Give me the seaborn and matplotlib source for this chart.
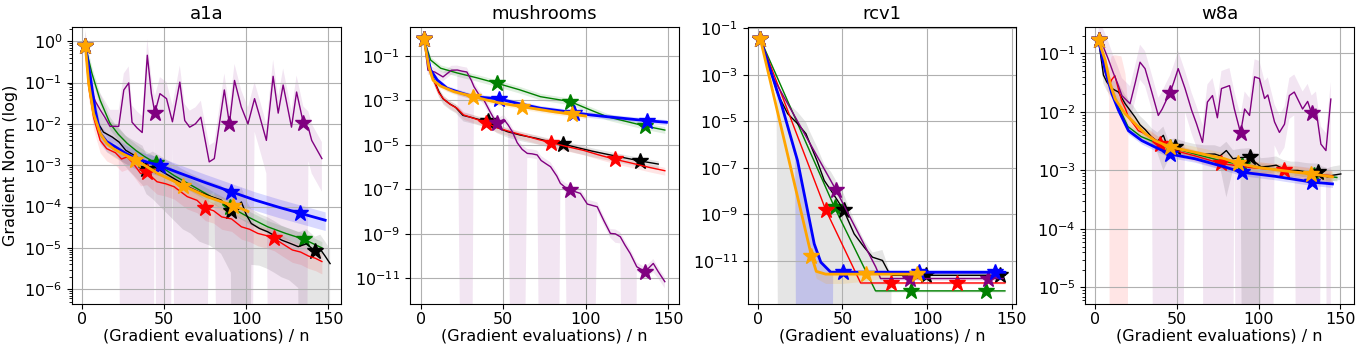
import numpy as np
import pandas as pd
import matplotlib

matplotlib.use("Agg")  # no display
import matplotlib.pyplot as plt
import seaborn as sns
from matplotlib.ticker import FixedLocator

# All y values are log10(gradient norm).
# up / dn are the band half-widths in decades above / below the mean line;
# dn = 20 means mean - std went negative, so the band runs off the bottom.

datasets = ["a1a", "mushrooms", "rcv1", "w8a"]
methods = ["green", "black", "red", "purple", "blue", "orange"]

# ---------------- a1a ----------------
a1a_green_x = [2, 6, 11, 17, 22, 27.4, 33, 38, 44.8, 56, 68, 79, 89.8, 101, 113, 124, 135, 146]
a1a_green_y = [-0.12, -0.78, -1.43, -1.99, -2.25, -2.47, -2.65, -2.79, -2.95, -3.25, -3.52, -3.77,
               -4.0, -4.25, -4.49, -4.65, -4.79, -5.0]
a1a_green_marks = [2, 44.8, 89.8, 135]
a1a_green_up = 0.15
a1a_green_dn = 0.15

a1a_black_x = [2, 4, 7, 10, 13, 18.4, 22.5, 26.6, 31.7, 36.8, 39.2, 43, 49, 55, 61.3, 66, 71.5, 78,
               84.6, 90.6, 94, 97, 100, 103, 108, 113, 117, 121.4, 126, 131.6, 136.7, 141.8, 145,
               148, 151]
a1a_black_y = [-0.12, -0.86, -1.66, -2.0, -2.2, -2.32, -2.44, -2.64, -2.76, -2.88, -3.1, -3.02,
               -3.16, -3.3, -3.45, -3.55, -3.65, -3.75, -3.84, -4.1, -4.0, -3.89, -4.2, -4.41,
               -4.53, -4.61, -4.7, -4.81, -4.88, -4.97, -4.9, -5.08, -5.03, -5.2, -5.38]
a1a_black_marks = [2, 39.2, 90.6, 141.8]
a1a_black_up = 0.35
a1a_black_dn = [0.1, 0.2, 0.3, 0.3, 0.3, 0.3, 0.4, 0.4, 0.5, 0.6, 0.6, 0.8, 0.9, 1.0, 1.1, 1.1,
                1.2, 1.2, 1.3, 1.5, 20, 20, 20, 1.0, 0.9, 0.9, 0.9, 0.9, 0.9, 1.0, 20, 20, 20,
                20, 20]

a1a_red_x = [2, 4, 7, 11, 15, 20.3, 24, 27.4, 31, 35.6, 39.3, 45.6, 51, 56, 64, 70, 75, 80, 85,
             91, 97, 102, 107, 112, 117, 122, 128, 133, 138, 142, 146]
a1a_red_y = [-0.12, -1.1, -1.84, -2.4, -2.6, -2.7, -2.85, -2.8, -2.95, -3.2, -3.17, -3.4, -3.45,
             -3.52, -3.76, -3.85, -4.04, -4.1, -4.25, -4.3, -4.49, -4.55, -4.65, -4.7, -4.77,
             -4.9, -5.05, -5.1, -5.2, -5.25, -5.33]
a1a_red_marks = [2, 39.3, 75, 117]
a1a_red_up = 0.2
a1a_red_dn = 0.3

a1a_purple_x = [2, 5, 8, 11, 14, 17, 20, 22.3, 25.4, 28.4, 30.4, 33.5, 36.6, 39.7, 42.2, 44.3,
                47.4, 51.4, 55, 59.5, 62.5, 65.5, 69, 72.3, 77.4, 80.5, 86.6, 89.7, 92.8, 96.9,
                101, 105, 108, 112.2, 116.3, 119.4, 122.4, 127.5, 130.6, 134.7, 137.8, 139.8, 146]
a1a_purple_y = [-0.12, -1.1, -1.45, -1.66, -1.85, -2.06, -2.06, -2.06, -1.18, -1.01, -1.96, -2.1,
                -2.21, -0.34, -1.27, -1.73, -1.27, -1.39, -1.95, -0.99, -1.92, -2.08, -2.0, -1.84,
                -2.92, -2.84, -1.18, -2.0, -0.95, -1.59, -2.0, -1.39, -1.8, -2.4, -0.85, -1.74,
                -1.06, -2.08, -1.23, -1.98, -2.1, -2.4, -2.84]
a1a_purple_marks = [44.3, 89.7, 134.7]
a1a_purple_up = 0.4
a1a_purple_dn = [0.1, 0.3, 0.4, 0.4, 0.4, 0.4, 0.4, 0.5, 20, 20, 20, 20, 20, 20, 20, 0.6, 20, 20,
                 0.6, 20, 20, 20, 20, 20, 0.8, 0.8, 20, 20, 20, 20, 20, 0.8, 0.8, 0.8, 20, 20, 20,
                 20, 20, 20, 0.8, 0.8, 0.8]

a1a_blue_x = [2, 5, 8, 11, 15, 20, 26, 32, 40, 47.4, 60, 75, 90.7, 105, 120, 132.6, 148]
a1a_blue_y = [-0.12, -0.86, -1.67, -2.23, -2.43, -2.55, -2.7, -2.83, -2.93, -3.01, -3.2, -3.42,
              -3.64, -3.84, -4.02, -4.16, -4.33]
a1a_blue_marks = [2, 47.4, 90.7, 132.6]
a1a_blue_up = 0.2
a1a_blue_dn = 0.25

a1a_orange_x = [2, 4, 7, 11, 15, 19, 25, 32.5, 40, 46, 54, 61.7, 69, 76, 84, 91.8, 97, 101]
a1a_orange_y = [-0.12, -1.02, -1.75, -2.23, -2.47, -2.6, -2.73, -2.87, -3.05, -3.2, -3.35, -3.5,
                -3.63, -3.76, -3.87, -3.98, -4.05, -4.12]
a1a_orange_marks = [2, 32.5, 61.7, 91.8]
a1a_orange_up = 0.12
a1a_orange_dn = 0.2

# ---------------- mushrooms ----------------
mushrooms_green_x = [2, 6, 12.1, 22, 34, 46.4, 60, 72.6, 90.7, 102, 113, 125, 136, 148]
mushrooms_green_y = [-0.25, -1.18, -1.55, -1.76, -1.98, -2.23, -2.52, -2.83, -3.05, -3.4, -3.73,
                     -3.95, -4.15, -4.33]
mushrooms_green_marks = [2, 46.4, 90.7, 136]
mushrooms_green_up = 0.15
mushrooms_green_dn = 0.15

mushrooms_black_x = [2, 5, 8.5, 11, 13.5, 17.5, 21, 25.6, 30, 35, 40.7, 46, 52.4, 60, 70, 78,
                     86.3, 95, 104, 113, 123, 133, 144]
mushrooms_black_y = [-0.25, -1.5, -2.17, -2.6, -2.92, -3.15, -3.3, -3.67, -3.75, -3.85, -3.92,
                     -4.2, -4.4, -4.55, -4.7, -4.85, -4.96, -5.12, -5.28, -5.42, -5.57, -5.72,
                     -5.86]
mushrooms_black_marks = [2, 40.7, 86.3, 133]
mushrooms_black_up = 0.15
mushrooms_black_dn = 0.25

mushrooms_red_x = [2, 5, 8.5, 11, 14, 18, 22, 26, 32, 39.7, 46, 55, 63, 71, 79, 89, 99, 108, 118,
                   128, 138, 148]
mushrooms_red_y = [-0.25, -1.6, -2.2, -2.65, -2.95, -3.18, -3.35, -3.65, -3.8, -4.0, -4.22, -4.42,
                   -4.58, -4.75, -4.9, -5.08, -5.25, -5.45, -5.65, -5.82, -6.0, -6.16]
mushrooms_red_marks = [2, 39.7, 79, 118]
mushrooms_red_up = 0.15
mushrooms_red_dn = 0.2

mushrooms_purple_x = [2, 4.4, 8.5, 13.5, 18.6, 22.2, 25, 28, 30.7, 32.3, 35, 38.3, 42, 46, 50.4,
                      53, 55.5, 58.5, 61.5, 64.6, 67.5, 70.6, 73, 76, 78.7, 82.5, 84.7, 87.5,
                      90.7, 93.5, 96.8, 101, 103, 107, 111, 115, 118, 121, 123.8, 127, 129.8,
                      131, 136, 141, 144, 148]
mushrooms_purple_y = [-0.25, -1.64, -1.72, -1.94, -1.64, -1.63, -1.68, -1.72, -2.1, -2.38, -2.7,
                      -2.98, -3.5, -4.03, -3.85, -4.1, -4.4, -4.9, -5.2, -5.38, -5.4, -5.45, -5.7,
                      -5.85, -5.98, -6.4, -6.73, -6.9, -7.03, -7.1, -7.18, -7.66, -7.7, -7.78,
                      -8.4, -8.98, -9.0, -9.13, -9.5, -9.88, -10.3, -10.48, -10.7, -10.33, -10.7,
                      -11.15]
mushrooms_purple_marks = [2, 46, 90.7, 136]
mushrooms_purple_up = 0.2
mushrooms_purple_dn = [0.1, 0.2, 0.2, 0.2, 0.2, 0.2, 20, 20, 20, 0.2, 0.2, 0.2, 0.2, 0.2, 0.2,
                       0.2, 20, 20, 20, 0.2, 0.2, 0.2, 20, 20, 20, 20, 0.2, 0.2, 20, 20, 20, 20,
                       20, 0.2, 0.2, 0.2, 0.4, 0.3, 20, 20, 20, 0.2, 0.3, 0.4, 0.3, 0.3]

mushrooms_blue_x = [2, 6, 10, 16, 24, 32, 40, 47.4, 60, 72.6, 83, 92.8, 103, 113, 125, 137, 149]
mushrooms_blue_y = [-0.25, -1.63, -2.08, -2.45, -2.65, -2.83, -2.88, -2.93, -3.15, -3.35, -3.45,
                    -3.55, -3.65, -3.73, -3.82, -3.91, -3.98]
mushrooms_blue_marks = [2, 47.4, 92.8, 137]
mushrooms_blue_up = 0.12
mushrooms_blue_dn = 0.12

mushrooms_orange_x = [2, 5, 7.5, 12, 20, 32, 40, 47, 55, 61.6, 70, 80, 91.8, 100]
mushrooms_orange_y = [-0.25, -1.5, -2.09, -2.35, -2.6, -2.83, -2.98, -3.1, -3.2, -3.28, -3.38,
                      -3.5, -3.62, -3.7]
mushrooms_orange_marks = [2, 32, 61.6, 91.8]
mushrooms_orange_up = 0.1
mushrooms_orange_dn = 0.12

# ---------------- rcv1 ----------------
rcv1_green_x = [1.5, 45.3, 69.5, 90.7, 135, 146]
rcv1_green_y = [-1.47, -8.7, -12.29, -12.29, -12.29, -12.29]
rcv1_green_marks = [1.5, 45.3, 90.7, 135]
rcv1_green_up = 0.05
rcv1_green_dn = 0.05

rcv1_black_x = [1.5, 6, 11, 12.7, 17.6, 23.5, 28.4, 30.4, 35, 39.2, 43.2, 50.6, 56.9, 62.8, 67.7,
                73.6, 77.4, 79, 99.4, 120, 143, 146]
rcv1_black_y = [-1.47, -2.4, -3.67, -3.96, -4.67, -5.1, -5.53, -5.89, -6.7, -7.54, -7.97, -8.8,
                -9.84, -10.41, -10.84, -10.98, -11.5, -11.62, -11.62, -11.62, -11.62, -11.62]
rcv1_black_marks = [1.5, 50.6, 99.4, 143]
rcv1_black_up = [0.05, 0.15, 0.3, 0.35, 0.45, 0.5, 0.5, 0.5, 0.6, 0.7, 0.8, 0.7, 0.6, 0.3, 0.2,
                 0.45, 0.15, 0.1, 0.1, 0.1, 0.1, 0.1]
rcv1_black_dn = [0.1, 0.2, 0.3, 20, 20, 20, 20, 20, 20, 20, 20, 20, 20, 20, 20, 20, 20, 0.15, 0.1,
                 0.1, 0.1, 0.1]

rcv1_red_x = [1.5, 40, 60.7, 78.6, 117.5, 146]
rcv1_red_y = [-1.47, -8.79, -11.95, -11.95, -11.95, -11.95]
rcv1_red_marks = [1.5, 40, 78.6, 117.5]
rcv1_red_up = 0.05
rcv1_red_dn = 0.05

rcv1_purple_x = [1.5, 7.7, 46, 69.7, 72.5, 90, 136, 145]
rcv1_purple_y = [-1.47, -2.95, -7.93, -11.27, -11.76, -11.76, -11.76, -11.76]
rcv1_purple_marks = [1.5, 46, 90, 136]
rcv1_purple_up = 0.08
rcv1_purple_dn = 0.08

rcv1_blue_x = [1.5, 13.8, 22, 23.4, 33.3, 37.2, 43.1, 44.5, 50.2, 70, 95, 120, 140.3, 146]
rcv1_blue_y = [-1.47, -4.24, -6.33, -6.68, -10.27, -11.06, -11.49, -11.49, -11.49, -11.49,
               -11.49, -11.49, -11.49, -11.49]
rcv1_blue_marks = [1.5, 50.2, 95, 140.3]
rcv1_blue_up = 0.1
rcv1_blue_dn = [0.1, 0.15, 0.2, 20, 20, 20, 20, 0.1, 0.1, 0.1, 0.1, 0.1, 0.1, 0.1]

rcv1_orange_x = [1.5, 16.5, 31.6, 34.5, 40, 50, 63.6, 80, 94, 97]
rcv1_orange_y = [-1.47, -6.1, -10.77, -11.45, -11.57, -11.57, -11.57, -11.57, -11.57, -11.57]
rcv1_orange_marks = [1.5, 31.6, 63.6, 94]
rcv1_orange_up = 0.08
rcv1_orange_dn = [0.1, 0.1, 0.1, 0.3, 0.4, 0.4, 0.3, 0.1, 0.1, 0.1]

# ---------------- w8a ----------------
w8a_green_x = [2, 6, 10, 14, 20, 28, 36.6, 45.7, 61, 79.3, 90, 110, 134, 148]
w8a_green_y = [-0.77, -1.25, -1.6, -1.9, -2.25, -2.42, -2.52, -2.6, -2.72, -2.85, -2.9, -2.98,
               -3.07, -3.12]
w8a_green_marks = [2, 45.7, 90, 134]
w8a_green_up = 0.06
w8a_green_dn = 0.06

w8a_black_x = [2, 5, 7.1, 10.2, 14.2, 18.3, 21.5, 24.4, 27.4, 30.5, 34.6, 38, 41.7, 44.7, 48.8,
               55, 61, 67, 73.2, 76.5, 80.3, 84.3, 89, 94.5, 97.5, 101.6, 106, 110.8, 115, 120,
               124, 128.2, 132, 136.2, 139, 142.3, 146, 150.4]
w8a_black_y = [-0.77, -1.37, -1.49, -1.6, -1.66, -1.86, -1.98, -2.09, -2.22, -2.3, -2.43, -2.5,
               -2.4, -2.63, -2.6, -2.66, -2.7, -2.72, -2.72, -2.75, -2.66, -2.8, -2.78, -2.77,
               -2.85, -2.94, -2.93, -2.91, -2.97, -3.0, -3.0, -3.02, -3.03, -3.03, -3.08, -3.11,
               -3.08, -3.06]
w8a_black_marks = [2, 48.8, 94.5, 136.2]
w8a_black_up = 0.15
w8a_black_dn = [0.05, 0.15, 0.15, 0.15, 0.15, 0.12, 0.12, 0.12, 0.12, 0.12, 0.12, 0.2, 0.6, 0.2,
                0.12, 0.12, 0.12, 0.12, 0.12, 0.2, 0.8, 0.2, 0.3, 20, 20, 0.15, 0.12, 0.12, 0.12,
                0.12, 0.1, 0.1, 0.1, 0.1, 0.1, 0.1, 0.1, 0.1]

w8a_red_x = [2, 5, 8.5, 10, 12, 16, 18.5, 20.3, 26.4, 34.6, 39.6, 48.8, 61, 76.8, 95, 115.4, 130,
             145]
w8a_red_y = [-0.77, -1.2, -1.55, -1.45, -1.38, -1.8, -1.95, -2.09, -2.32, -2.43, -2.55, -2.66,
             -2.75, -2.88, -2.95, -3.0, -3.05, -3.09]
w8a_red_marks = [2, 39.6, 76.8, 115.4]
w8a_red_up = [0.05, 0.15, 0.3, 0.4, 0.35, 0.75, 0.6, 0.15, 0.1, 0.1, 0.1, 0.1, 0.1, 0.1, 0.1, 0.1,
              0.1, 0.1]
w8a_red_dn = [0.1, 0.15, 0.2, 20, 20, 20, 20, 0.15, 0.1, 0.1, 0.1, 0.1, 0.1, 0.1, 0.1, 0.1, 0.1,
              0.1]

w8a_purple_x = [2, 5, 8, 11, 13.5, 16.3, 21.3, 24.5, 27.4, 30.5, 34.5, 38.6, 41, 43.5, 45.7, 48,
                50.8, 55, 59, 62, 65.7, 68.7, 71.8, 74.8, 77.3, 82.2, 85.2, 89, 91.5, 94.5, 97.6,
                100.6, 103.7, 105.7, 109.8, 112.8, 115.9, 118.9, 121.9, 127, 130.1, 132.5, 135.2,
                138.2, 141.3, 144.3]
w8a_purple_y = [-0.77, -0.89, -1.1, -1.33, -1.5, -1.72, -1.86, -1.5, -1.15, -1.26, -1.65, -2.06,
                -1.95, -1.8, -1.68, -1.5, -1.26, -1.6, -1.97, -2.2, -2.52, -1.83, -1.72, -2.1,
                -1.6, -1.55, -1.95, -2.36, -1.95, -2.06, -1.4, -1.43, -1.77, -1.71, -2.17, -2.35,
                -2.21, -1.72, -1.66, -1.95, -1.82, -2.02, -1.95, -2.55, -2.66, -1.78]
w8a_purple_marks = [2, 45.7, 89, 132.5]
w8a_purple_up = 0.3
w8a_purple_dn = [0.1, 0.2, 0.25, 0.3, 0.3, 0.3, 0.3, 0.3, 0.3, 0.3, 0.3, 20, 20, 20, 20, 20, 20,
                 0.4, 0.4, 0.4, 0.4, 20, 20, 20, 20, 20, 0.4, 20, 20, 20, 20, 20, 20, 20, 0.4,
                 0.4, 0.4, 0.4, 0.4, 20, 20, 20, 20, 0.4, 0.4, 20]

w8a_blue_x = [2, 6.1, 10.2, 14.2, 20.3, 28.5, 36.6, 45.7, 61, 79.3, 89.8, 110, 133, 145.3]
w8a_blue_y = [-0.77, -1.29, -1.69, -1.97, -2.32, -2.49, -2.6, -2.72, -2.8, -2.94, -3.03, -3.1,
              -3.2, -3.23]
w8a_blue_marks = [2, 45.7, 89.8, 133]
w8a_blue_up = 0.06
w8a_blue_dn = 0.06

w8a_orange_x = [2, 6.1, 9.1, 12.2, 18.3, 24.4, 30.5, 36.6, 45.7, 61, 79.3, 87.4, 100, 113.8,
                132.1, 145.3]
w8a_orange_y = [-0.77, -1.12, -1.52, -1.78, -2.03, -2.2, -2.37, -2.49, -2.6, -2.69, -2.8, -2.88,
                -2.95, -3.0, -3.06, -3.11]
w8a_orange_marks = [2, 45.7, 87.4, 132.1]
w8a_orange_up = 0.1
w8a_orange_dn = 0.1

# axis ranges (log10 for y) and the decades that carry a labelled tick
x_limits = {"a1a": (-6.1, 157.5), "mushrooms": (-6.6, 156.3), "rcv1": (-6.1, 152.7),
            "w8a": (-6.1, 158.5)}
y_limits = {"a1a": (-6.36, 0.34), "mushrooms": (-12.16, 0.30), "rcv1": (-12.86, -0.944),
            "w8a": (-5.285, -0.55)}
y_decades = {"a1a": [0, -1, -2, -3, -4, -5, -6], "mushrooms": [-1, -3, -5, -7, -9, -11],
             "rcv1": [-1, -3, -5, -7, -9, -11], "w8a": [-1, -2, -3, -4, -5]}

line_width = {"green": 1.0, "black": 1.0, "red": 1.0, "purple": 1.0, "blue": 2.0, "orange": 2.0}
band_alpha = {"green": 0.12, "black": 0.1, "red": 0.1, "purple": 0.1, "blue": 0.15, "orange": 0.15}


def get_series(ds, m):
    g = globals()
    x = np.array(g[f"{ds}_{m}_x"], dtype=float)
    y = np.array(g[f"{ds}_{m}_y"], dtype=float)
    up = np.broadcast_to(np.array(g[f"{ds}_{m}_up"], dtype=float), y.shape)
    dn = np.broadcast_to(np.array(g[f"{ds}_{m}_dn"], dtype=float), y.shape)
    marks = [g[f"{ds}_{m}_x"].index(v) for v in g[f"{ds}_{m}_marks"]]
    return x, y, up, dn, marks


plt.rcParams["font.family"] = ["DejaVu Sans"]
plt.rcParams["font.size"] = 11.5
plt.rcParams["axes.titlesize"] = 13
plt.rcParams["xtick.major.pad"] = 2.5

fig, axes = plt.subplots(1, 4, figsize=(13.6, 3.52), dpi=100)
fig.subplots_adjust(left=0.053, right=0.9956, bottom=0.136, top=0.923, wspace=0.257)

for ax, ds in zip(axes, datasets):
    # shaded bands first, lines on top
    for m in methods:
        x, y, up, dn, _ = get_series(ds, m)
        ax.fill_between(x, 10 ** (y - dn), 10 ** (y + up), color=m, alpha=band_alpha[m],
                        linewidth=0, zorder=1)
    for i, m in enumerate(methods):
        x, y, up, dn, marks = get_series(ds, m)
        df = pd.DataFrame({"x": x, "y": 10 ** y})
        sns.lineplot(data=df, x="x", y="y", ax=ax, color=m, linewidth=line_width[m],
                     estimator=None, sort=False, marker="*", markersize=12,
                     markeredgecolor=m, markeredgewidth=1, markevery=marks, zorder=3 + i)
    ax.set_yscale("log")
    ax.set_xlim(*x_limits[ds])
    lo, hi = y_limits[ds]
    ax.set_ylim(10 ** lo, 10 ** hi)
    ax.yaxis.set_major_locator(FixedLocator([10.0 ** d for d in y_decades[ds]]))
    ax.set_xticks([0, 50, 100, 150])
    ax.grid(True, which="major", color="#b0b0b0", linewidth=0.8)
    ax.set_title(ds)
    ax.set_xlabel("(Gradient evaluations) / n", labelpad=1)
    ax.set_ylabel("")

axes[0].set_ylabel("Gradient Norm (log)")

fig.savefig("out.png", dpi=100)
